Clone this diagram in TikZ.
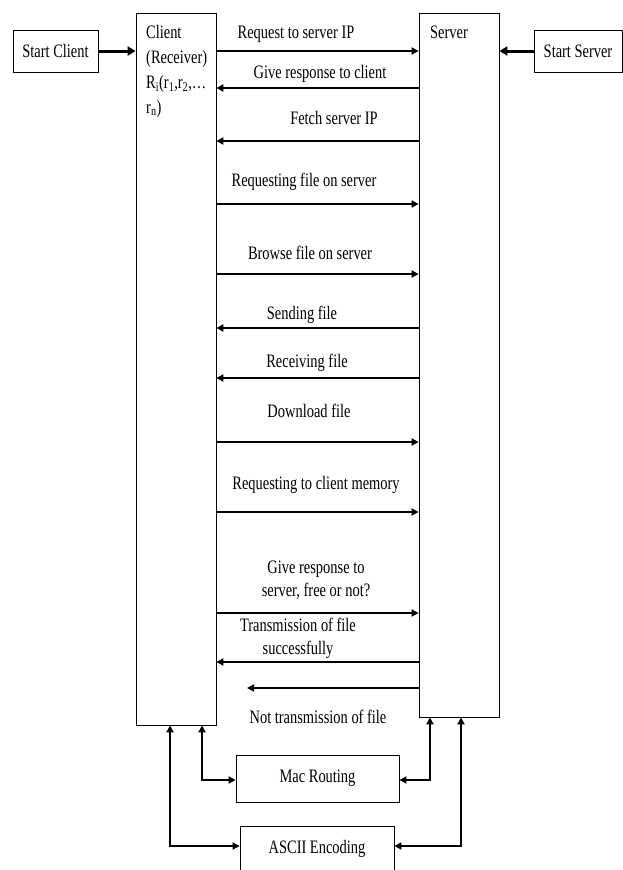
\documentclass[tikz,border=0pt]{standalone}
\usepackage{fontspec}
\setmainfont{Liberation Serif}[FakeStretch=0.76]
\usetikzlibrary{arrows.meta}
\begin{document}
\begin{tikzpicture}[x=1pt,y=-1pt,
  every node/.style={font=\fontsize{19}{23}\selectfont},
  box/.style={draw, line width=0.8pt, inner sep=0pt},
  msg/.style={line width=2pt, -{Triangle[length=7pt,width=7pt]}},
  dbl/.style={line width=2pt, {Triangle[length=7pt,width=7pt]}-{Triangle[length=7pt,width=7pt]}},
  startarrow/.style={line width=3pt, -{Triangle[length=8pt,width=9pt]}},
  lab/.style={anchor=base, inner sep=0pt},
  lab2/.style={anchor=center, inner sep=0pt, align=center}]
\useasboundingbox (0,0) rectangle (623,870);
% boxes
\node[box, minimum width=85pt, minimum height=42pt] (sc) at (55.5,51) {Start Client};
\node[box, minimum width=88pt, minimum height=42pt] (ss) at (578,51) {Start Server};
\node[box, minimum width=80pt, minimum height=712pt] (client) at (176,369) {};
\node[box, minimum width=80pt, minimum height=704pt] (server) at (459,365) {};
\node[anchor=north west, inner sep=0pt, align=left, font=\fontsize{19}{25}\selectfont] (clientlab) at (146,25)
  {Client\\(Receiver)\\R\textsubscript{i}(r\textsubscript{1},r\textsubscript{2},…\\r\textsubscript{n})};
\node[anchor=base west, inner sep=0pt] (serverlab) at (430,38) {Server};
\node[box, minimum width=163pt, minimum height=47pt] (mac) at (317.5,778.5) {Mac Routing};
\node[box, minimum width=154pt, minimum height=46pt] (ascii) at (317,849) {ASCII Encoding};
% start arrows
\draw[startarrow] (sc.east) -- (client.west |- sc.east);
\draw[startarrow] (ss.west) -- (server.east |- ss.west);
% message rows
\coordinate (m1) at (0,51);
\coordinate (m2) at (0,88);
\coordinate (m3) at (0,141);
\coordinate (m4) at (0,204);
\coordinate (m5) at (0,274);
\coordinate (m6) at (0,328);
\coordinate (m7) at (0,378);
\coordinate (m8) at (0,442);
\coordinate (m9) at (0,512);
\coordinate (m10) at (0,613);
\coordinate (m11) at (0,662);
\coordinate (m12) at (0,688);
\coordinate (e12) at (247,688);
\draw[msg] (client.east |- m1) -- (server.west |- m1);
\draw[msg] (server.west |- m2) -- (client.east |- m2);
\draw[msg] (server.west |- m3) -- (client.east |- m3);
\draw[msg] (client.east |- m4) -- (server.west |- m4);
\draw[msg] (client.east |- m5) -- (server.west |- m5);
\draw[msg] (server.west |- m6) -- (client.east |- m6);
\draw[msg] (server.west |- m7) -- (client.east |- m7);
\draw[msg] (client.east |- m8) -- (server.west |- m8);
\draw[msg] (client.east |- m9) -- (server.west |- m9);
\draw[msg] (client.east |- m10) -- (server.west |- m10);
\draw[msg] (server.west |- m11) -- (client.east |- m11);
\draw[msg] (server.west |- m12) -- (e12);
% labels
\node[lab] (l1) at (296,38) {Request to server IP};
\node[lab] (l2) at (320,78.5) {Give response to client};
\node[lab] (l3) at (334,124.5) {Fetch server IP};
\node[lab] (l4) at (304,186.5) {Requesting file on server};
\node[lab] (l5) at (310,259.5) {Browse file on server};
\node[lab] (l6) at (302,319.5) {Sending file};
\node[lab] (l7) at (307,367.5) {Receiving file};
\node[lab] (l8) at (309,417.5) {Download file};
\node[lab] (l9) at (316,489.5) {Requesting to client memory};
\node[lab2] (l10) at (316,580) {Give response to\\server, free or not?};
\node[lab2] (l11) at (298,638) {Transmission of file\\successfully};
\node[lab] (l12) at (318,723.5) {Not transmission of file};
% bottom connectors
\coordinate (c1) at (170,846);
\coordinate (c2) at (202,780);
\coordinate (s1) at (430,780);
\coordinate (s2) at (461,846);
\draw[dbl] (client.south -| c1) -- (c1) -- (ascii.west |- c1);
\draw[dbl] (client.south -| c2) -- (c2) -- (mac.west |- c2);
\draw[dbl] (server.south -| s1) -- (s1) -- (mac.east |- s1);
\draw[dbl] (server.south -| s2) -- (s2) -- (ascii.east |- s2);
\end{tikzpicture}
\end{document}
